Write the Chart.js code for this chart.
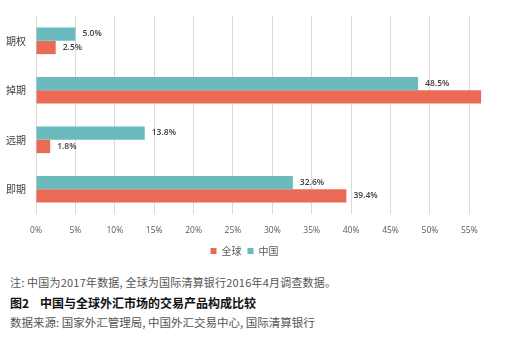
<!DOCTYPE html>
<html>
<head>
<meta charset="utf-8">
<script src="https://cdn.jsdelivr.net/npm/chart.js@4"></script>
<style>
    html, body { margin: 0; padding: 0; background: #fff; }
    #wrap { position: relative; width: 511px; height: 342px; overflow: hidden; }
    #chartBox { position: absolute; left: 0; top: 0; width: 511px; height: 266px; }
    .note { position: absolute; left: 10px; white-space: nowrap; font-family: 'Noto Sans CJK SC', sans-serif; }
</style>
</head>
<body>
<div id="wrap">
    <div id="chartBox"><canvas id="productChart"></canvas></div>
    <div class="note" style="top:274px; font-size:11px; color:#555; letter-spacing:0.2px;">注: 中国为2017年数据, 全球为国际清算银行2016年4月调查数据。</div>
    <div class="note" style="top:294px; font-size:12px; color:#111; font-weight:bold;">图2&nbsp;&nbsp;&nbsp;&nbsp;中国与全球外汇市场的交易产品构成比较</div>
    <div class="note" style="top:314px; font-size:11.5px; color:#555;">数据来源: 国家外汇管理局, 中国外汇交易中心, 国际清算银行</div>
</div>
<script>
// Chart data
const categories = ['期权', '掉期', '远期', '即期'];
const chinaValues = [5.0, 48.5, 13.8, 32.6];
const globalValues = [2.5, 56.5, 1.8, 39.4];
// the global swap bar has no value label in the source
const globalLabelShown = [true, false, true, true];
const xTicks = [0, 5, 10, 15, 20, 25, 30, 35, 40, 45, 50, 55];

Chart.defaults.font.family = "'Open Sans', 'Noto Sans CJK SC', sans-serif";

/**
 * Draw value labels at the end of each bar
 */
const valueLabels = {
    id: 'valueLabels',
    afterDatasetsDraw(chart) {
        const ctx = chart.ctx;
        ctx.save();
        ctx.font = "600 8.5px 'Open Sans', sans-serif";
        ctx.fillStyle = '#404040';
        ctx.textBaseline = 'middle';
        ctx.textAlign = 'left';
        chart.data.datasets.forEach((ds, i) => {
            const meta = chart.getDatasetMeta(i);
            meta.data.forEach((bar, j) => {
                if (ds.showLabel && !ds.showLabel[j]) return;
                ctx.fillText(ds.data[j].toFixed(1) + '%', bar.x + 7, bar.y);
            });
        });
        ctx.restore();
    }
};

new Chart(document.getElementById('productChart'), {
    type: 'bar',
    data: {
        labels: categories,
        datasets: [
            {
                label: '中国',
                data: chinaValues,
                backgroundColor: '#6bbbbe'
            },
            {
                label: '全球',
                data: globalValues,
                backgroundColor: '#ea6a55',
                showLabel: globalLabelShown
            }
        ]
    },
    options: {
        indexAxis: 'y',
        responsive: true,
        maintainAspectRatio: false,
        animation: false,
        categoryPercentage: 0.54,
        barPercentage: 1,
        layout: { padding: { top: 8, right: 22, left: 0, bottom: 0 } },
        scales: {
            x: {
                min: 0,
                max: 57.5,
                afterBuildTicks: (scale) => {
                    scale.ticks = xTicks.map(v => ({ value: v }));
                },
                afterFit: (scale) => { scale.height = 26; },
                grid: { color: '#d9d9d9', drawTicks: false },
                border: { display: false },
                ticks: {
                    color: '#595959',
                    font: { size: 8.5 },
                    padding: 11,
                    callback: (v) => v + '%'
                }
            },
            y: {
                afterFit: (scale) => { scale.width = 36; },
                grid: { display: false, drawTicks: false },
                border: { display: false },
                ticks: {
                    color: '#404040',
                    font: { size: 10, family: "'Noto Sans CJK SC', sans-serif" },
                    padding: 10
                }
            }
        },
        plugins: {
            legend: {
                position: 'bottom',
                labels: {
                    boxWidth: 6,
                    boxHeight: 6,
                    padding: 6,
                    color: '#595959',
                    font: { size: 10, family: "'Noto Sans CJK SC', sans-serif" },
                    sort: (a, b) => b.datasetIndex - a.datasetIndex
                }
            },
            tooltip: { enabled: false }
        }
    },
    plugins: [valueLabels]
});
</script>
</body>
</html>
